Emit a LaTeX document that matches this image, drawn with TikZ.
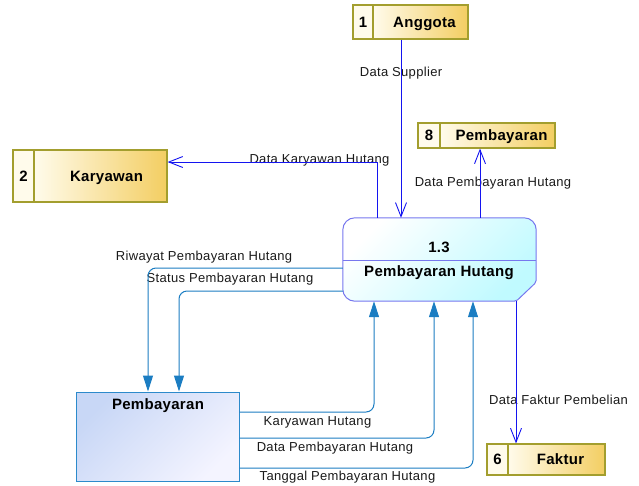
\documentclass[tikz,border=0pt]{standalone}
\usepackage{fontspec}
\setmainfont{Liberation Sans}
\newfontfamily\lblfont{Liberation Sans}[LetterSpace=2.5]
\newfontfamily\hdfont{Liberation Sans}[LetterSpace=2]
\usetikzlibrary{arrows.meta,calc}
\definecolor{entborder}{HTML}{A39E2E}
\definecolor{entlight}{HTML}{FFFBEB}
\definecolor{entdark}{HTML}{F3CE62}
\definecolor{procborder}{HTML}{7777EE}
\definecolor{proccyan}{HTML}{C0FAFF}
\definecolor{dsborder}{HTML}{2C8ACB}
\definecolor{dsdark}{HTML}{C8D7F6}
\definecolor{dslight}{HTML}{F4F4FF}
\definecolor{flowblue}{HTML}{1414F0}
\definecolor{flowteal}{HTML}{1B7DC2}
\definecolor{txt}{HTML}{1A1A1A}
\begin{document}
\begin{tikzpicture}[x=1pt,y=-1pt,
  hd/.style={font=\hdfont\bfseries\fontsize{15}{16}\selectfont, text=black, inner sep=0pt, text height=10.7pt, text depth=0pt},
  lbl/.style={font=\lblfont\fontsize{13}{14}\selectfont, text=txt, inner sep=0pt, text height=9.3pt, text depth=0pt},
  entnum/.style={hd, draw=entborder, line width=1.2pt, fill=entlight},
  entname/.style={hd, draw=entborder, line width=1.2pt, left color=entlight, right color=entdark},
  procline/.style={draw=procborder, line width=1pt},
  store/.style={draw=dsborder, line width=1pt, top color=dsdark, bottom color=dslight, shading angle=45, inner sep=0pt},
  flowV/.style={draw=flowblue, line width=0.9pt, -{Straight Barb[length=14pt,width=11pt]}},
  flowS/.style={draw=flowteal, line width=1pt, rounded corners=8, -{Triangle[length=16pt,width=10pt]}}]
\useasboundingbox (0,0) rectangle (639,485);

% external entities: number cell + name cell
\node[entname, minimum width=95pt, minimum height=34pt] (ang) at (420.5,22) {\hspace*{8pt}Anggota};
\node[entnum, minimum width=20pt, minimum height=34pt] (angn) at (363,22) {1};
\node[entname, minimum width=133pt, minimum height=52pt] (kar) at (100.5,176) {\hspace*{12pt}Karyawan};
\node[entnum, minimum width=21pt, minimum height=52pt] (karn) at (23.5,176) {2};
\node[entname, minimum width=115pt, minimum height=25pt] (pb) at (497.5,135.5) {\hspace*{8pt}Pembayaran};
\node[entnum, minimum width=22pt, minimum height=25pt] (pbn) at (429,135.5) {8};
\node[entname, minimum width=97pt, minimum height=31pt] (fak) at (556.5,459.5) {\hspace*{8pt}Faktur};
\node[entnum, minimum width=21pt, minimum height=31pt] (fakn) at (497.5,459.5) {6};

% process 1.3 with cut bottom-right corner
\node[minimum width=193pt, minimum height=83pt, inner sep=0pt] (proc) at (439.5,259.5) {};
\path[procline, top color=white, bottom color=proccyan, shading angle=45, rounded corners=12]
  ($(proc.south east)+(0,-19)$) -- (proc.north east) -- (proc.north west) -- (proc.south west)
  [rounded corners=2] -- ($(proc.south east)+(-20,0)$) -- cycle;
\draw[procline] ($(proc.north west)+(0,43)$) -- ($(proc.north east)+(0,43)$);
\node[hd] (procid) at (439,247) {1.3};
\node[hd] (procname) at (439,271) {Pembayaran Hutang};

% data store
\node[store, minimum width=163pt, minimum height=89pt] (ds) at (157.5,436.5) {};
\node[hd] (dstitle) at (158,404) {Pembayaran};

% flow labels
\node[lbl] (lSup) at (401,72) {Data Supplier};
\node[lbl] (lKar) at (319.5,159) {Data Karyawan Hutang};
\node[lbl] (lPb) at (493,182) {Data Pembayaran Hutang};
\node[lbl] (lFak) at (558.5,400) {Data Faktur Pembelian};
\node[lbl] (lRiw) at (204,256) {Riwayat Pembayaran Hutang};
\node[lbl] (lSta) at (230,278) {Status Pembayaran Hutang};
\node[lbl] (lKh) at (317.5,421) {Karyawan Hutang};
\node[lbl] (lDph) at (335,447) {Data Pembayaran Hutang};
\node[lbl] (lTph) at (347.5,476) {Tanggal Pembayaran Hutang};

% routing points
\coordinate (cSup) at (401,0);
\coordinate (cKar) at (377,162);
\coordinate (cPb) at (480,0);
\coordinate (cFak) at (516,0);
\coordinate (cRiw) at (148,268);
\coordinate (cSta) at (179,291);
\coordinate (cKh) at (374,412);
\coordinate (cDph) at (434,438);
\coordinate (cTph) at (473,468);

% flows
\draw[flowV] (ang.south -| cSup) -- (proc.north -| cSup);
\draw[flowV] (proc.north -| cKar) |- (kar.east |- cKar);
\draw[flowV] (proc.north -| cPb) -- (pb.south -| cPb);
\draw[flowV] (proc.south -| cFak) -- (fak.north -| cFak);
\draw[flowS] (proc.west |- cRiw) -| (ds.north -| cRiw);
\draw[flowS] (proc.west |- cSta) -| (ds.north -| cSta);
\draw[flowS] (ds.east |- cKh) -| (proc.south -| cKh);
\draw[flowS] (ds.east |- cDph) -| (proc.south -| cDph);
\draw[flowS] (ds.east |- cTph) -| (proc.south -| cTph);
\end{tikzpicture}
\end{document}
